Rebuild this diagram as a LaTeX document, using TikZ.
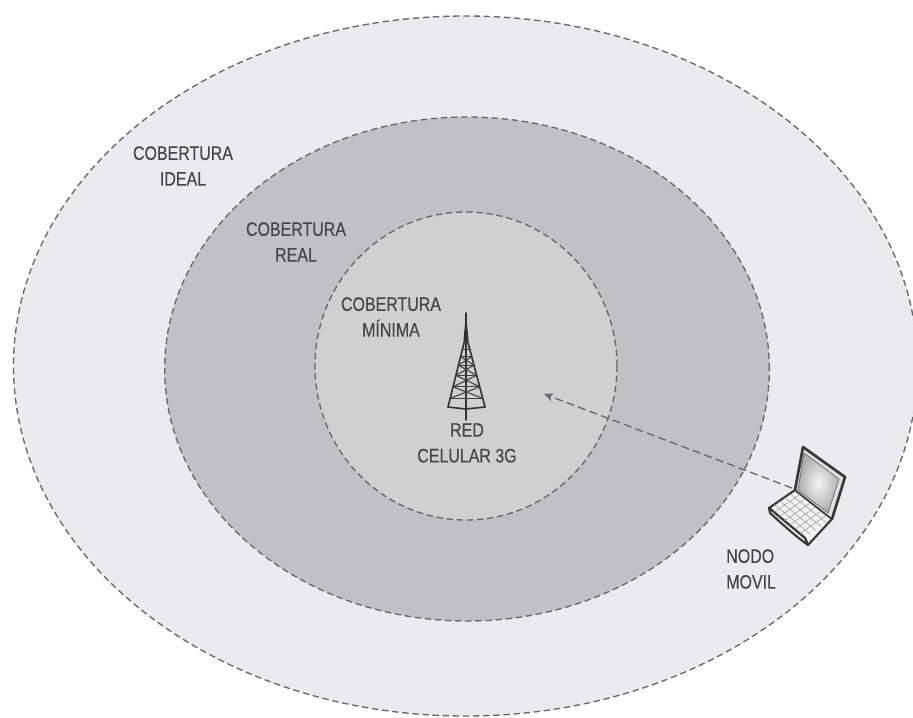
\documentclass[tikz,border=0pt]{standalone}
\usepackage{fontspec}
\setmainfont{Liberation Sans}
\newfontfamily\lblfont[FakeStretch=0.82,FakeBold=0.25]{Liberation Sans}
\usetikzlibrary{shapes.geometric,arrows.meta,calc}
\definecolor{txt}{HTML}{454546}
\definecolor{ln}{HTML}{68686A}
\definecolor{zoneA}{HTML}{EBEBED}
\definecolor{zoneB}{HTML}{C1C1C3}
\definecolor{zoneC}{HTML}{D0D0D1}
\tikzset{
  zone/.style={ellipse,draw=ln,line width=1pt,dash pattern=on 4.8pt off 2.8pt,inner sep=0pt},
  lbl/.style={align=center,text=txt,font=\lblfont\fontsize{14.6}{19.3}\selectfont,inner sep=0pt},
  tw/.style={draw=black!80,line width=1.2pt,line cap=round,line join=round},
  twf/.style={draw=black!75,line width=0.8pt,line cap=round},
  lap/.style={draw=black!78,line width=1.6pt,line join=round},
  key/.style={draw=black!40,line width=0.4pt}
}
\begin{document}
\begin{tikzpicture}[x=0.75pt,y=-0.75pt]
\useasboundingbox (0,0) rectangle (913,717);
\clip (0,0) rectangle (913,717);
\fill[white] (0,0) rectangle (913,717);
\node[zone,fill=zoneA,minimum width=678pt,minimum height=525pt] (ideal) at (465.5,366) {};
\node[zone,fill=zoneB,minimum width=453.5pt,minimum height=378pt] (real) at (467,369) {};
\node[zone,fill=zoneC,minimum width=226.5pt,minimum height=231pt] (minima) at (466,366) {};
\node[lbl,anchor=north] (t1) at (183,146) {COBERTURA\\IDEAL};
\node[lbl,anchor=north] (t2) at (296,222) {COBERTURA\\REAL};
\node[lbl,anchor=north] (t3) at (391,297) {COBERTURA\\MÍNIMA};
\node[lbl,anchor=north] (t4) at (467,423) {RED\\CELULAR 3G};
\node[lbl,align=left,anchor=north west] (t5) at (726,549) {NODO\\MOVIL};
% tower
\coordinate (apex) at (466,313);
\coordinate (neck) at (466,335);
\coordinate (bl) at (448,407);
\coordinate (br) at (485,407);
\coordinate (bc) at (466,409);
\coordinate (foot) at (466,420);
\fill[black!85] (apex) -- (468.5,340) -- (463.5,340) -- cycle;
\draw[tw] (neck) -- (bl) (neck) -- (br) (apex) -- (foot);
\draw[tw] (bl) -- (bc) -- (br);
\foreach \f in {0.1,0.2,0.3,0.42,0.56,0.72,0.88}{
  \draw[twf] ($(neck)!\f!(bl)$) -- ($(neck)!\f!(br)$);
}
\draw[twf]
  ($(neck)!.88!(bl)$) -- ($(neck)!.72!(br)$) ($(neck)!.88!(br)$) -- ($(neck)!.72!(bl)$)
  ($(neck)!.72!(bl)$) -- ($(neck)!.56!(br)$) ($(neck)!.72!(br)$) -- ($(neck)!.56!(bl)$)
  ($(neck)!.56!(bl)$) -- ($(neck)!.42!(br)$) ($(neck)!.56!(br)$) -- ($(neck)!.42!(bl)$)
  ($(neck)!.42!(bl)$) -- ($(neck)!.3!(br)$) ($(neck)!.42!(br)$) -- ($(neck)!.3!(bl)$);
% arrow
\coordinate (mobile) at (792,488);
\coordinate (target) at (544,394);
\draw[ln,line width=1pt,dash pattern=on 6pt off 3.2pt,-{Stealth[length=7pt,width=6pt]}] (mobile) -- (target);
% laptop
\coordinate (tl) at (803,447);
\coordinate (tr) at (845,477);
\coordinate (hl) at (795,490);
\coordinate (hr) at (832,519);
\coordinate (fl) at (769,508);
\coordinate (fb) at (808,545);
\coordinate (fm) at (805,538);
\draw[lap,fill=white!95!black] (fl) -- (hl) -- (hr) -- (fb) -- (fm) -- cycle;
\draw[lap,fill=black!6] (fl) -- (770,513) .. controls (780,522) and (795,536) .. (fb) -- (fm) -- cycle;
\foreach \i in {1,...,6}{
  \draw[key] ($(hl)!\i/7!(hr)$) -- ($(fl)!\i/7!(fm)$);
}
\foreach \i in {1,...,4}{
  \draw[key] ($(hl)!\i/5!(fl)$) -- ($(hr)!\i/5!(fm)$);
}
\filldraw[fill=black!12,lap,line width=0.9pt] (tl) -- (tr) -- (hr) -- (hl) -- cycle;
\shade[inner color=black!4,outer color=black!32] (804,453) -- (839,479) -- (828,513) -- (798,490) -- cycle;
\draw[draw=black!60,line width=0.5pt] (804,453) -- (839,479) -- (828,513) -- (798,490) -- cycle;
\draw[lap,line width=2pt] (hl) -- (tl) -- (tr) -- (hr);
\end{tikzpicture}
\end{document}
